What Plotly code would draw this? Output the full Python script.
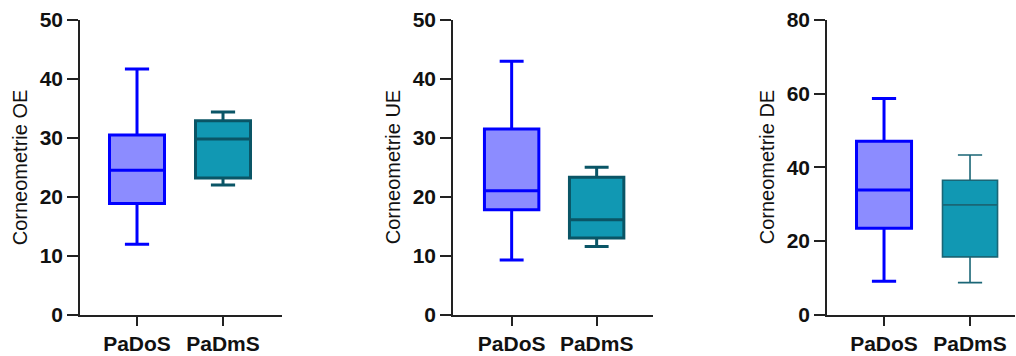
import plotly.graph_objects as go

categories = ["PaDoS", "PaDmS"]
titles = ["Corneometrie OE", "Corneometrie UE", "Corneometrie DE"]

# per panel: [PaDoS, PaDmS]
lower = [[11.95, 22.0], [9.3, 11.55], [9.05, 8.7]]
q1 = [[18.85, 23.2], [17.8, 13.0], [23.45, 15.7]]
median = [[24.5, 29.8], [21.05, 16.1], [33.85, 29.8]]
q3 = [[30.5, 32.9], [31.5, 23.3], [47.06, 36.5]]
upper = [[41.7, 34.4], [43.0, 25.0], [58.7, 43.35]]

y_max = [50, 50, 80]
y_dtick = [10, 10, 20]

W, H = 1016, 356
x_dom_px = [(80, 282), (453, 653), (827, 1015)]
x_ranges = [(-0.663, 1.686), (-0.69, 1.663), (-0.663, 1.523)]
title_x_px = [20, 393, 767]
y_dom = [(H - 314.7) / H, (H - 20) / H]

fill = ["#8c8cff", "#1198b3"]
outline = ["#0000ff", "#0a5566"]
lw = [[3, 3], [3, 3], [3, 1.6]]
outline3 = ["#0000ff", "#1a6676"]

FONT = "Liberation Sans, Arial, sans-serif"

fig = go.Figure()
for p in range(3):
    xa = "x" if p == 0 else f"x{p+1}"
    ya = "y" if p == 0 else f"y{p+1}"
    for c in range(2):
        col = outline3[c] if p == 2 else outline[c]
        fig.add_trace(go.Box(
            x=[categories[c]],
            q1=[q1[p][c]], median=[median[p][c]], q3=[q3[p][c]],
            lowerfence=[lower[p][c]], upperfence=[upper[p][c]],
            xaxis=xa, yaxis=ya,
            fillcolor=fill[c],
            line=dict(color=col, width=lw[p][c]),
            width=0.64, whiskerwidth=0.44,
            boxpoints=False, showlegend=False, hoverinfo="skip",
        ))

layout = dict(
    width=W, height=H,
    margin=dict(l=0, r=0, t=0, b=0),
    paper_bgcolor="white", plot_bgcolor="white",
    showlegend=False,
    annotations=[],
)
for p in range(3):
    xk = "xaxis" if p == 0 else f"xaxis{p+1}"
    yk = "yaxis" if p == 0 else f"yaxis{p+1}"
    ya = "y" if p == 0 else f"y{p+1}"
    xa = "x" if p == 0 else f"x{p+1}"
    layout[xk] = dict(
        domain=[x_dom_px[p][0] / W, x_dom_px[p][1] / W],
        anchor=ya, type="category",
        categoryorder="array", categoryarray=categories,
        range=list(x_ranges[p]),
        showline=True, linecolor="#222222", linewidth=1.5,
        ticks="outside", ticklen=10, tickwidth=1.5, tickcolor="#222222",
        showgrid=False, zeroline=False, automargin=False,
        ticklabelstandoff=-1,
        tickfont=dict(family=FONT, size=21, color="#111111", weight="bold"),
    )
    layout[yk] = dict(
        domain=list(y_dom), anchor=xa,
        range=[0, y_max[p]], dtick=y_dtick[p], tick0=0,
        showline=True, linecolor="#222222", linewidth=1.5,
        ticks="outside", ticklen=11, tickwidth=1.5, tickcolor="#222222",
        showgrid=False, zeroline=False, automargin=False,
        tickfont=dict(family=FONT, size=21, color="#111111", weight="bold"),
    )
    layout["annotations"].append(dict(
        text=titles[p], xref="paper", yref="paper",
        x=title_x_px[p] / W, y=(H - 167.3) / H,
        xanchor="center", yanchor="middle", textangle=-90,
        showarrow=False,
        font=dict(family=FONT, size=20, color="#111111"),
    ))

fig.update_layout(**layout)
fig.write_html("out.html")
